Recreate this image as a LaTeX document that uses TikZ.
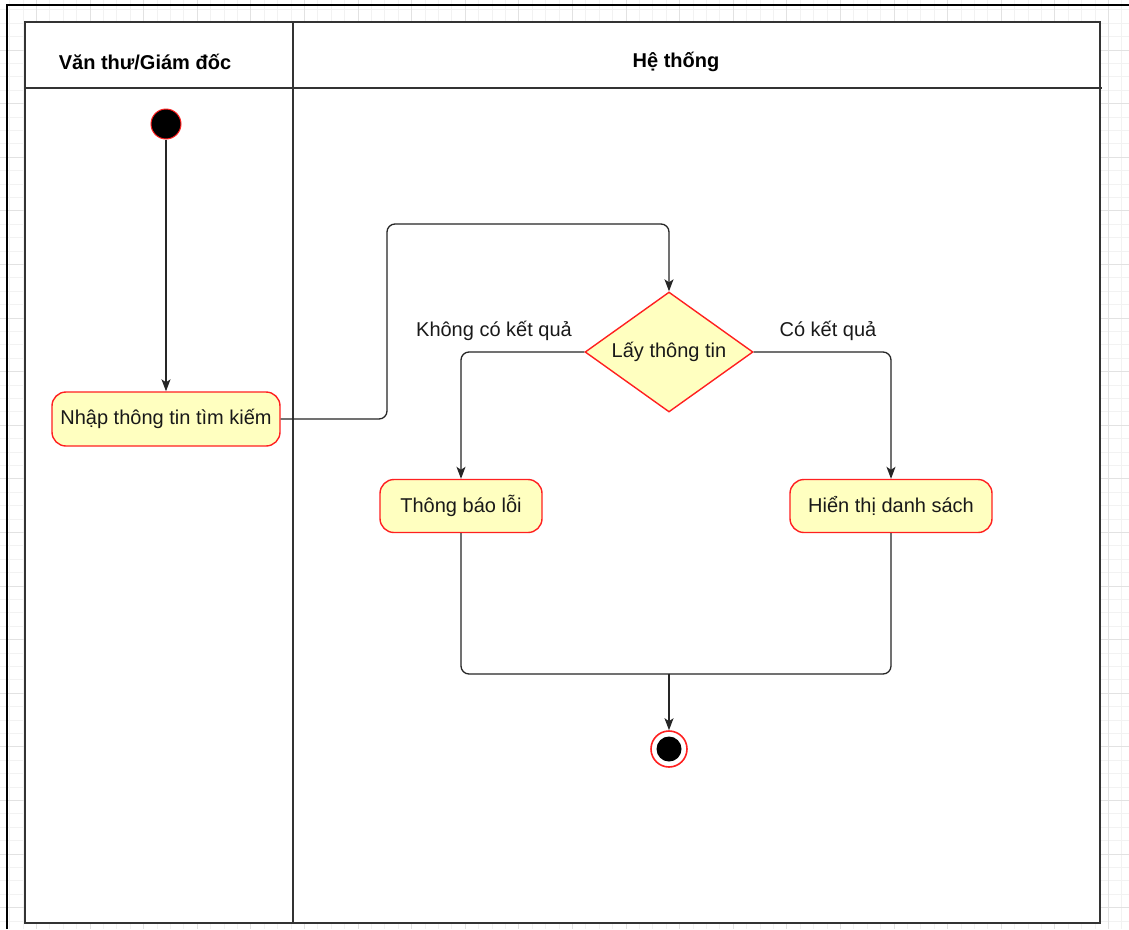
\documentclass[tikz,border=0pt]{standalone}
\usepackage{fontspec}
\setmainfont{Liberation Sans}
\usetikzlibrary{shapes.geometric,arrows.meta}
\definecolor{actfill}{HTML}{FFFFC0}
\definecolor{actline}{HTML}{FF2020}
\definecolor{gridminor}{HTML}{F2F2F2}
\definecolor{gridmajor}{HTML}{E2E2E2}
\definecolor{poolline}{HTML}{333333}
\tikzset{
  gminor/.style={gridminor, line width=0.8pt},
  gmajor/.style={gridmajor, line width=1pt},
  pool/.style={draw=poolline, line width=1.6pt},
  lbl/.style={font=\fontsize{20}{24}\selectfont, text=black!90},
  hdr/.style={font=\fontsize{20}{24}\selectfont\bfseries, text=black},
  action/.style={rectangle, rounded corners=14pt, draw=actline, fill=actfill, line width=1.4pt,
    font=\fontsize{20}{24}\selectfont, text=black!90, inner sep=0pt},
  decision/.style={diamond, aspect=1.4, draw=actline, fill=actfill, line width=1.4pt, inner sep=0pt,
    minimum width=168pt, minimum height=120pt, font=\fontsize{20}{24}\selectfont, text=black!90},
  startnode/.style={circle, draw=actline, fill=black, line width=1pt, minimum size=30pt, inner sep=0pt},
  endnode/.style={circle, draw=actline, fill=white, line width=1.6pt, minimum size=36pt, inner sep=0pt},
  flow/.style={draw=black!85, line width=1.3pt, rounded corners=8pt, -{Stealth[length=12pt,width=9pt,inset=3pt]}},
  plainflow/.style={draw=black!85, line width=1.3pt, rounded corners=8pt},
}
\begin{document}
\begin{tikzpicture}[x=1pt,y=-1pt]
\useasboundingbox (0,0) rectangle (1129,929);
\fill[white] (0,0) rectangle (1129,929);
% background grid
\foreach \k in {-7,...,80} {
  \draw[gminor] ({90+13.4*\k},0) -- ({90+13.4*\k},929);
}
\foreach \k in {-4,...,66} {
  \draw[gminor] (0,{50+13.4*\k}) -- (1129,{50+13.4*\k});
}
\foreach \k in {-2,...,20} {
  \draw[gmajor] ({90+53.6*\k},0) -- ({90+53.6*\k},929);
}
\foreach \k in {-1,...,17} {
  \draw[gmajor] (0,{50+53.6*\k}) -- (1129,{50+53.6*\k});
}
% screenshot frame
\draw[black, line width=1.8pt] (7,929) -- (7,5) -- (1129,5);
% pool
\fill[white] (25,22) rectangle (1100,923);
\draw[pool] (25,22) rectangle (1100,923);
\draw[pool] (25,88) -- (1102,88);
\draw[pool] (293,22) -- (293,923);
\node[hdr] (h1) at (145,62) {Văn thư/Giám đốc};
\node[hdr] (h2) at (676,62) {Hệ thống};
% nodes
\node[startnode] (start) at (166,124) {};
\node[action, minimum width=228pt, minimum height=54pt] (act1) at (166,419) {Nhập thông tin tìm kiếm};
\node[decision] (dec) at (669,352) {Lấy thông tin};
\node[action, minimum width=162pt, minimum height=53pt] (act2) at (461,506) {Thông báo lỗi};
\node[action, minimum width=202pt, minimum height=53pt] (act3) at (891,506) {Hiển thị danh sách};
\node[endnode] (end) at (669,749) {};
\fill[black] (end.center) circle (12.5pt);
\coordinate (via1) at (387,224);
\coordinate (merge) at (669,674);
% connectors
\draw[flow] (start) -- (act1);
\draw[flow] (act1.east) -| (via1) -| (dec.north);
\draw[flow] (dec.west) -| (act2.north);
\draw[flow] (dec.east) -| (act3.north);
\draw[plainflow] (act2.south) |- (merge);
\draw[plainflow] (act3.south) |- (merge);
\draw[flow] (merge) -- (end);
% labels
\node[lbl] (l1) at (494,331) {Không có kết quả};
\node[lbl] (l2) at (828,331) {Có kết quả};
\end{tikzpicture}
\end{document}
